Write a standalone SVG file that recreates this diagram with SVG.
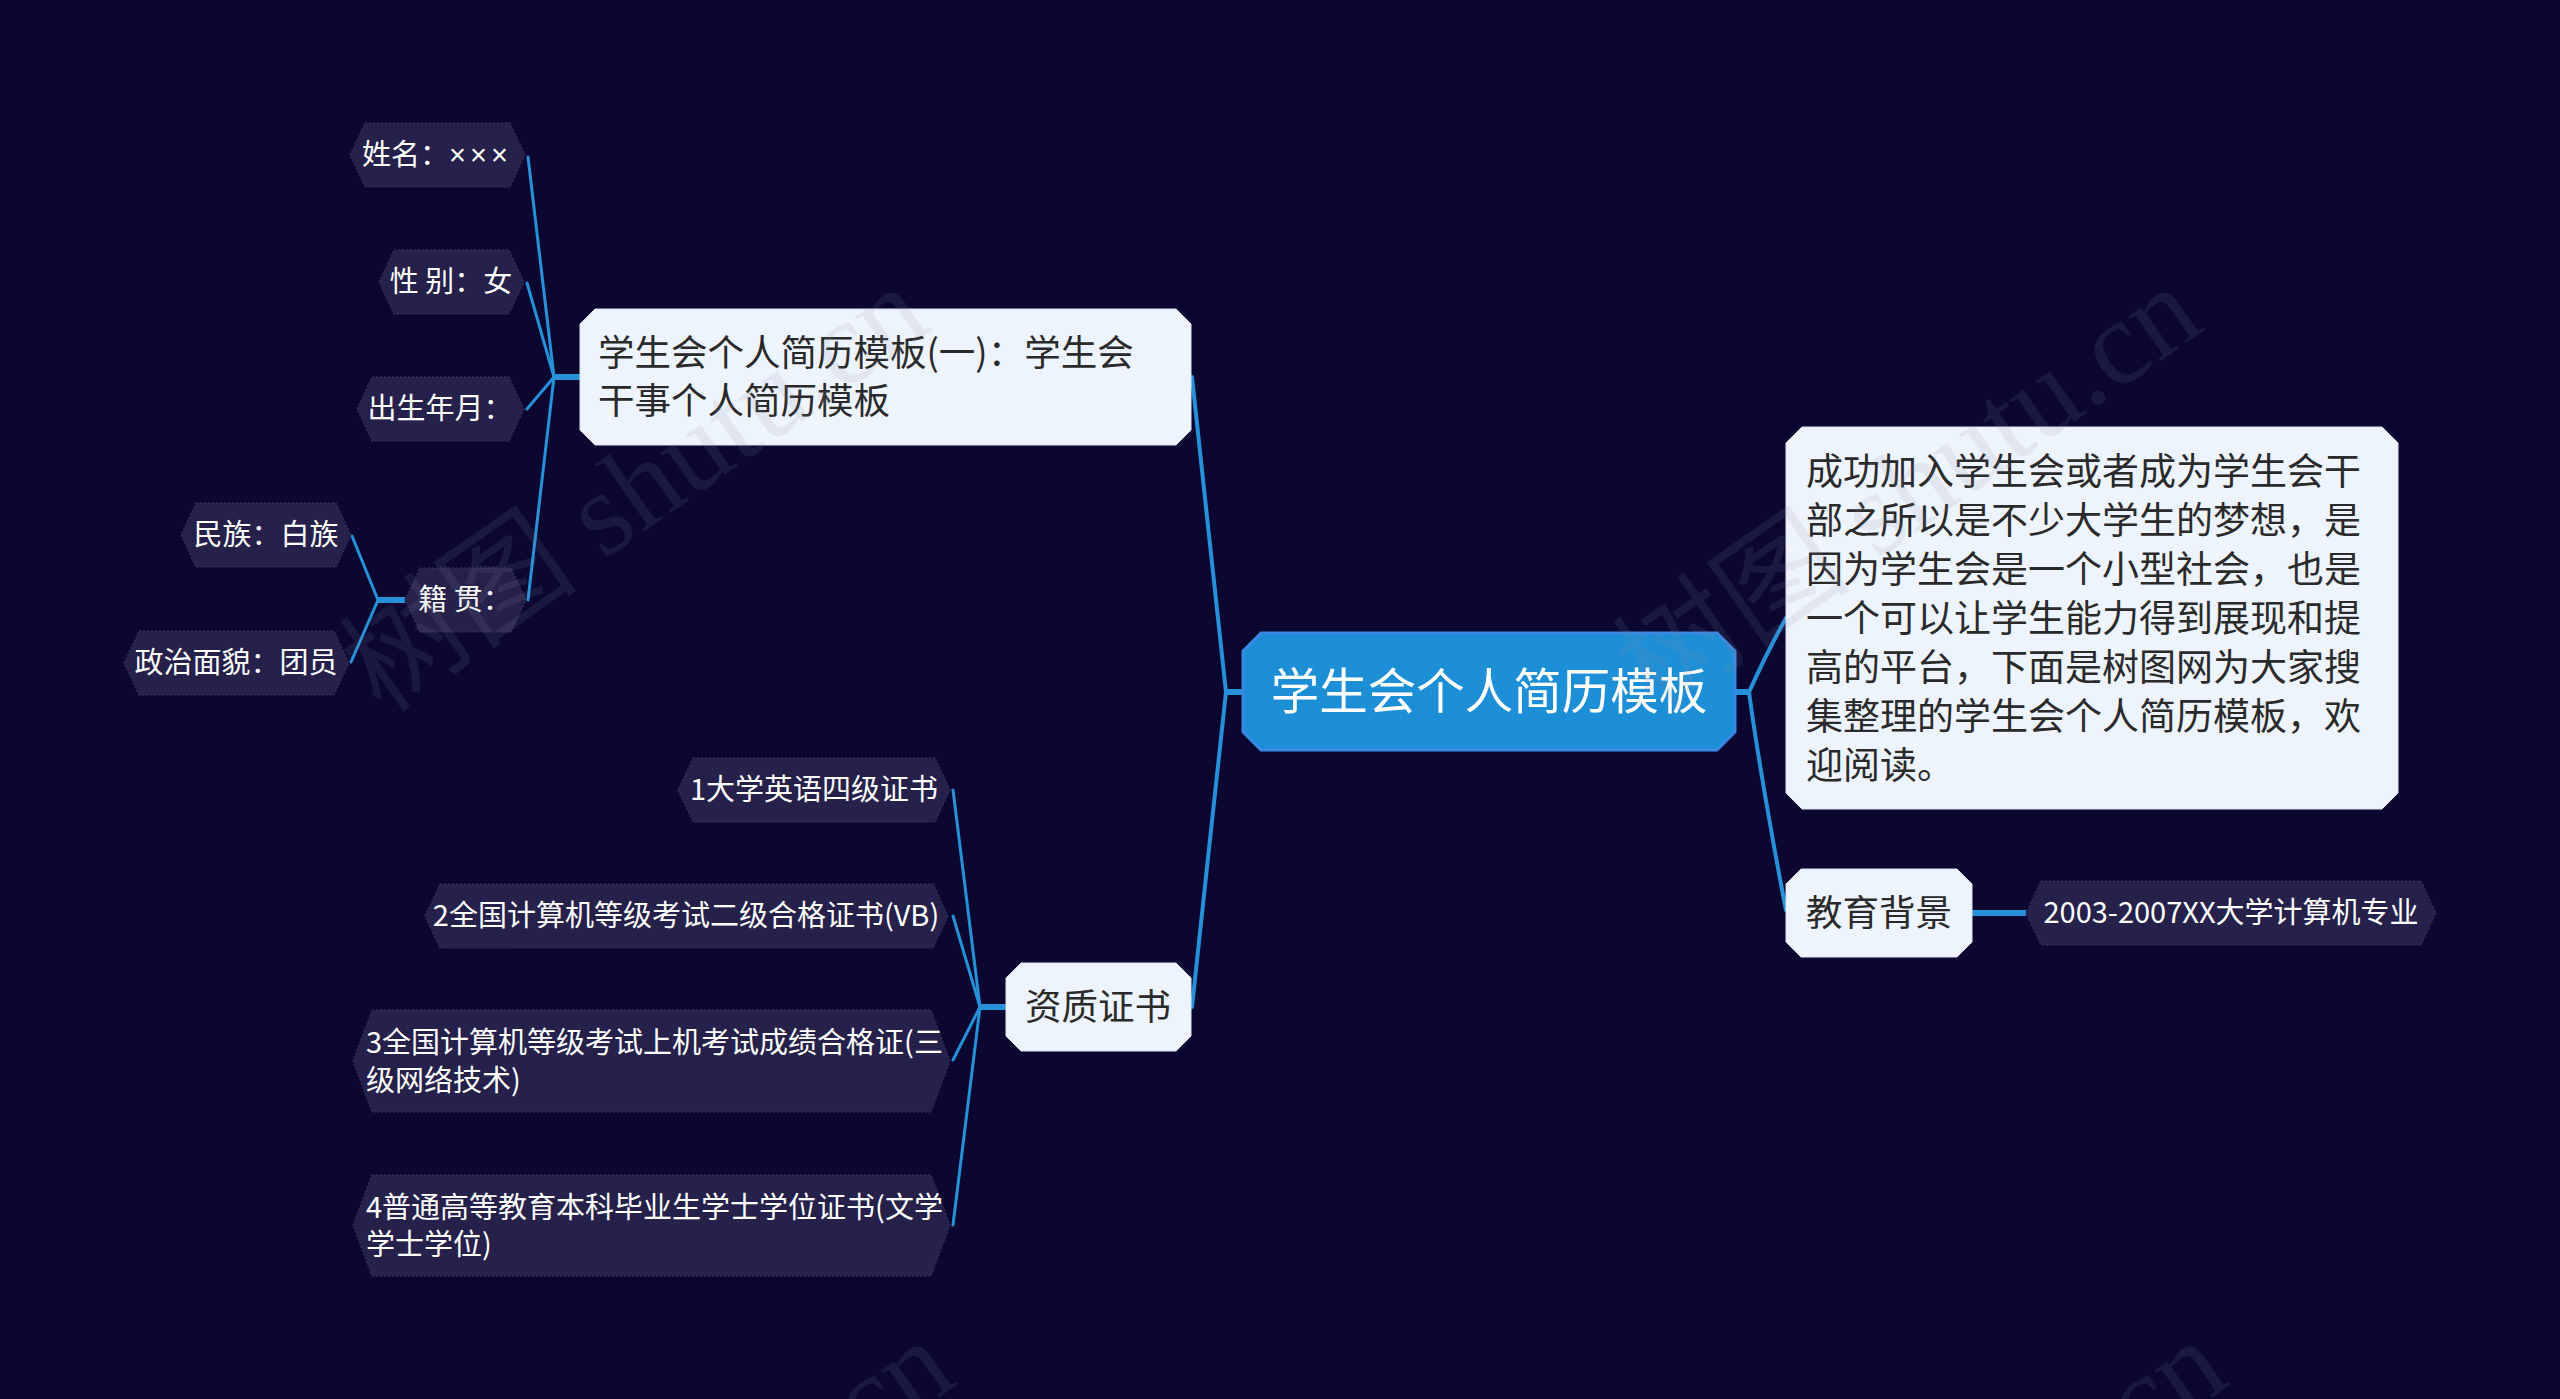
<svg xmlns="http://www.w3.org/2000/svg" width="2560" height="1399" viewBox="0 0 2560 1399">
<style>
.bg{fill:#0b0731}
.dark{fill:#25214a;stroke:#2f2b55;stroke-width:1.5;stroke-dasharray:2 2}
.light{fill:#eef4fd;stroke:#dbe4f2;stroke-width:1}
.root{fill:#1d8fd6;stroke:#3a88e4;stroke-width:3}
.t{font-family:"Noto Sans CJK SC","Microsoft YaHei","Noto Sans",sans-serif}
.tw{fill:#ffffff;font-size:29px}
.tl{fill:#2a2a2a;font-size:36.5px}
.td{fill:#2a2a2a;font-size:37px}
.tr{fill:#ffffff;font-size:48.5px}
.c{fill:none;stroke:#2690d8;stroke-linecap:round}
.c3{stroke-width:3}
.c4{stroke-width:4}
.c6{stroke-width:6;stroke-linecap:butt}
.wm{font-family:"Liberation Serif","Noto Sans CJK SC",serif;font-size:120px;fill:#8a8aa0;fill-opacity:0.13}
</style>
<rect class="bg" x="0" y="0" width="2560" height="1399"/>

<g id="connectors">
  <path class="c c6" d="M1243,692 H1225"/>
  <path class="c c4" d="M1226,692 C1221,640 1198,440 1192,377"/>
  <path class="c c4" d="M1226,692 C1221,744 1198,944 1192,1007"/>
  <path class="c c6" d="M1735,692 H1750"/>
  <path class="c c4" d="M1749,692 C1758,672 1776,636 1786,618"/>
  <path class="c c4" d="M1749,692 C1758,760 1778,870 1786,910"/>
  <path class="c c6" d="M580,377 H554"/>
  <path class="c c3" d="M554,377 L528,157"/>
  <path class="c c3" d="M554,377 L527,283"/>
  <path class="c c3" d="M554,377 L527,409"/>
  <path class="c c3" d="M554,377 L528,600"/>
  <path class="c c6" d="M405,600 H378"/>
  <path class="c c3" d="M378,600 L352,536"/>
  <path class="c c3" d="M378,600 L351,662"/>
  <path class="c c6" d="M1006,1007 H980"/>
  <path class="c c3" d="M980,1007 L953,790"/>
  <path class="c c3" d="M980,1007 L953,916"/>
  <path class="c c3" d="M980,1007 L953,1060"/>
  <path class="c c3" d="M980,1007 L953,1225"/>
  <path class="c c6" d="M1972,913 H2026"/>
</g>

<g id="root">
  <path class="root" d="M1261,633 H1717 L1735,651 V732 L1717,750 H1261 L1243,732 V651 Z"/>
  <text class="t tr" x="1489" y="709" text-anchor="middle">学生会个人简历模板</text>
</g>

<g id="branch-resume">
  <path class="light" d="M595,309 H1176 L1191,324 V430 L1176,445 H595 L580,430 V324 Z"/>
  <text class="t tl" x="598" y="366">学生会个人简历模板(一)：学生会</text>
  <text class="t tl" x="598" y="414">干事个人简历模板</text>
</g>

<g id="node-name">
  <path class="dark" d="M365,123 H510 L525,155 L510,187 H365 L350,155 Z"/>
  <text class="t tw" x="437" y="165" text-anchor="middle">姓名：<tspan font-family="Liberation Sans, sans-serif" letter-spacing="4">×××</tspan></text>
</g>
<g id="node-gender">
  <path class="dark" d="M394,250 H509 L524,282 L509,314 H394 L379,282 Z"/>
  <text class="t tw" x="451" y="292" text-anchor="middle">性 别：女</text>
</g>
<g id="node-birth">
  <path class="dark" d="M372,377 H509 L524,409 L509,441 H372 L357,409 Z"/>
  <text class="t tw" x="440" y="419" text-anchor="middle">出生年月：</text>
</g>
<g id="node-origin">
  <path class="dark" d="M420,568 H511 L526,600 L511,632 H420 L405,600 Z"/>
  <text class="t tw" x="465" y="610" text-anchor="middle">籍 贯：</text>
</g>
<g id="node-ethnic">
  <path class="dark" d="M196,503 H336 L351,535 L336,567 H196 L181,535 Z"/>
  <text class="t tw" x="266" y="545" text-anchor="middle">民族：白族</text>
</g>
<g id="node-political">
  <path class="dark" d="M139,631 H334 L349,663 L334,695 H139 L124,663 Z"/>
  <text class="t tw" x="236" y="673" text-anchor="middle">政治面貌：团员</text>
</g>

<g id="branch-cert">
  <path class="light" d="M1021,963 H1176 L1191,978 V1036 L1176,1051 H1021 L1006,1036 V978 Z"/>
  <text class="t tl" x="1098" y="1020" text-anchor="middle">资质证书</text>
</g>
<g id="cert-1">
  <path class="dark" d="M693,758 H935 L950,790 L935,822 H693 L678,790 Z"/>
  <text class="t tw" x="814" y="800" text-anchor="middle">1大学英语四级证书</text>
</g>
<g id="cert-2">
  <path class="dark" d="M440,884 H933 L948,916 L933,948 H440 L425,916 Z"/>
  <text class="t tw" x="686" y="926" text-anchor="middle">2全国计算机等级考试二级合格证书(VB)</text>
</g>
<g id="cert-3">
  <path class="dark" d="M372,1010 H931 L950,1061 L931,1112 H372 L353,1061 Z"/>
  <text class="t tw" x="366" y="1053">3全国计算机等级考试上机考试成绩合格证(三</text>
  <text class="t tw" x="366" y="1091">级网络技术)</text>
</g>
<g id="cert-4">
  <path class="dark" d="M372,1175 H931 L950,1225 L931,1276 H372 L353,1225 Z"/>
  <text class="t tw" x="366" y="1218">4普通高等教育本科毕业生学士学位证书(文学</text>
  <text class="t tw" x="366" y="1255">学士学位)</text>
</g>

<g id="desc">
  <path class="light" d="M1802,427 H2382 L2398,443 V793 L2382,809 H1802 L1786,793 V443 Z"/>
  <text class="t td" x="1806" y="485">成功加入学生会或者成为学生会干</text>
  <text class="t td" x="1806" y="534">部之所以是不少大学生的梦想，是</text>
  <text class="t td" x="1806" y="583">因为学生会是一个小型社会，也是</text>
  <text class="t td" x="1806" y="632">一个可以让学生能力得到展现和提</text>
  <text class="t td" x="1806" y="681">高的平台，下面是树图网为大家搜</text>
  <text class="t td" x="1806" y="730">集整理的学生会个人简历模板，欢</text>
  <text class="t td" x="1806" y="779">迎阅读。</text>
</g>

<g id="branch-edu">
  <path class="light" d="M1801,869 H1957 L1972,884 V942 L1957,957 H1801 L1786,942 V884 Z"/>
  <text class="t tl" x="1879" y="926" text-anchor="middle">教育背景</text>
</g>
<g id="edu-1">
  <path class="dark" d="M2041,881 H2421 L2436,913 L2421,945 H2041 L2026,913 Z"/>
  <text class="t tw" x="2231" y="923" text-anchor="middle" font-size="29.5">2003-2007XX大学计算机专业</text>
</g>

<g id="watermarks">
  <text class="wm" transform="translate(382,715) rotate(-35)">树图 shutu.cn</text>
  <text class="wm" transform="translate(1655,715) rotate(-35)">树图 shutu.cn</text>
  <text class="wm" transform="translate(408,1769) rotate(-35)">树图 shutu.cn</text>
  <text class="wm" transform="translate(1681,1769) rotate(-35)">树图 shutu.cn</text>
</g>
</svg>
